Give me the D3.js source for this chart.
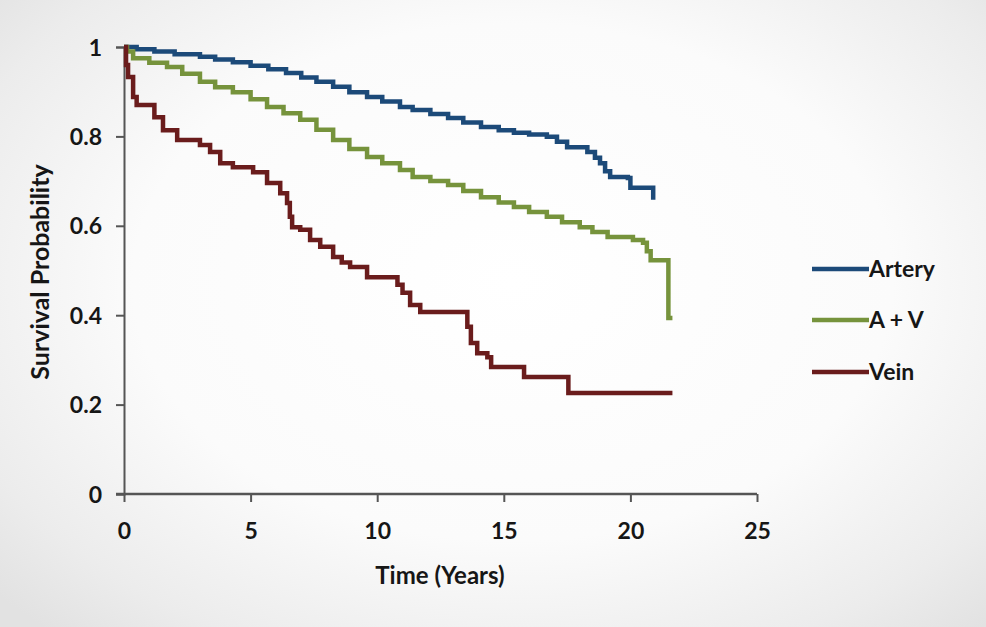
<!DOCTYPE html>
<html>
<head>
<meta charset="utf-8">
<script src="https://cdn.jsdelivr.net/npm/d3@7/dist/d3.min.js"></script>
<style>
html,body{margin:0;padding:0;}
body{width:986px;height:627px;overflow:hidden;
background:radial-gradient(ellipse 70% 75% at 52% 45%, #ffffff 0%, #fbfbfb 55%, #ececec 85%, #e2e2e2 100%);}
svg{display:block;}
text{font-family:Lato,"Open Sans",sans-serif;fill:#161616;font-weight:700;}
</style>
</head>
<body>
<svg id="chart" width="986" height="627"></svg>
<script>
// ---- data ----
const seriesNames = ["Artery", "A + V", "Vein"];
const seriesColors = ["#1c4a79", "#76933c", "#6a1c1c"];
const xTicks = [0, 5, 10, 15, 20, 25];
const yTicks = [0, 0.2, 0.4, 0.6, 0.8, 1];
const yTickLabels = ["0", "0.2", "0.4", "0.6", "0.8", "1"];

const arteryT = [0, 0.5, 1.2, 2.0, 3.0, 3.6, 4.3, 5.0, 5.7, 6.4, 7.0, 7.6, 8.26, 8.9, 9.6, 10.2, 10.9, 11.4, 12.1, 12.8, 13.4, 14.1, 14.8, 15.4, 16.0, 16.7, 17.1, 17.5, 18.3, 18.6, 18.8, 19.0, 19.2, 19.9, 20.0, 20.9, 20.9];
const arteryV = [1.0, 0.995, 0.99, 0.984, 0.978, 0.972, 0.966, 0.958, 0.95, 0.942, 0.932, 0.922, 0.911, 0.899, 0.888, 0.878, 0.866, 0.859, 0.85, 0.841, 0.831, 0.821, 0.814, 0.808, 0.804, 0.799, 0.788, 0.776, 0.765, 0.752, 0.74, 0.722, 0.709, 0.707, 0.685, 0.685, 0.658];

const avT = [0, 0.12, 0.36, 1.0, 1.7, 2.3, 3.0, 3.6, 4.3, 5.0, 5.65, 6.3, 6.96, 7.6, 8.26, 8.9, 9.6, 10.2, 10.9, 11.4, 12.1, 12.8, 13.4, 14.1, 14.8, 15.4, 16.0, 16.7, 17.3, 18.0, 18.5, 19.1, 20.1, 20.5, 20.65, 20.8, 21.5, 21.66];
const avV = [1.0, 0.99, 0.975, 0.965, 0.955, 0.94, 0.922, 0.91, 0.899, 0.883, 0.866, 0.852, 0.837, 0.815, 0.792, 0.772, 0.754, 0.74, 0.725, 0.709, 0.70, 0.691, 0.678, 0.664, 0.652, 0.642, 0.631, 0.620, 0.608, 0.597, 0.586, 0.575, 0.568, 0.562, 0.543, 0.523, 0.394, 0.394];

const veinT = [0, 0.08, 0.16, 0.36, 0.5, 1.03, 1.2, 1.54, 2.1, 3.0, 3.4, 3.8, 4.3, 5.1, 5.65, 6.17, 6.44, 6.55, 6.64, 6.96, 7.35, 7.75, 8.26, 8.6, 8.93, 9.6, 10.6, 10.8, 11.0, 11.3, 11.7, 13.4, 13.56, 13.7, 13.95, 14.35, 14.5, 15.65, 15.8, 17.55, 21.66];
const veinV = [1.0, 0.96, 0.933, 0.888, 0.87, 0.87, 0.843, 0.814, 0.792, 0.781, 0.765, 0.74, 0.731, 0.72, 0.696, 0.673, 0.651, 0.62, 0.597, 0.591, 0.568, 0.553, 0.53, 0.518, 0.508, 0.485, 0.485, 0.468, 0.45, 0.423, 0.407, 0.407, 0.374, 0.338, 0.315, 0.306, 0.284, 0.284, 0.262, 0.226, 0.226];

const seriesT = [arteryT, avT, veinT];
const seriesV = [arteryV, avV, veinV];

// ---- layout ----
const svg = d3.select("#chart");
const x = d3.scaleLinear().domain([0, 25]).range([124, 757]);
const y = d3.scaleLinear().domain([0, 1]).range([494, 47]);
const axisColor = "#555";

// y axis
const yAxis = d3.axisLeft(y).tickValues(yTicks).tickFormat((d, i) => yTickLabels[i]).tickSize(8).tickPadding(14);
const gy = svg.append("g").attr("transform", "translate(124,0)").call(yAxis);
gy.select(".domain").attr("stroke", axisColor).attr("stroke-width", 2);
gy.selectAll(".tick line").attr("stroke", axisColor).attr("stroke-width", 2);
gy.selectAll(".tick text").style("font-size", "23px").style("font-family", "Lato, sans-serif").style("font-weight", "700").attr("fill", "#161616").attr("dy", "0.35em");

// x axis
const xAxis = d3.axisBottom(x).tickValues(xTicks).tickSize(8).tickPadding(29).tickSizeOuter(0);
const gx = svg.append("g").attr("transform", "translate(0,494)").call(xAxis);
gx.select(".domain").attr("stroke", axisColor).attr("stroke-width", 2.5).attr("d", "M116,0H757");
gx.selectAll(".tick line").attr("stroke", axisColor).attr("stroke-width", 2);
gx.selectAll(".tick text").style("font-size", "23px").style("font-family", "Lato, sans-serif").style("font-weight", "700").attr("fill", "#161616").attr("dy", "0.35em");

// axis titles
svg.append("text").attr("x", 440).attr("y", 584).attr("text-anchor", "middle")
  .style("font-size", "24px").text("Time (Years)");
svg.append("text").attr("transform", "translate(49,272) rotate(-90)").attr("text-anchor", "middle")
  .style("font-size", "25px").text("Survival Probability");

// lines
const line = d3.line().x(d => x(d[0])).y(d => y(d[1])).curve(d3.curveStepAfter);
seriesNames.forEach((name, i) => {
  const pts = seriesT[i].map((t, j) => [t, seriesV[i][j]]);
  svg.append("path").datum(pts).attr("d", line)
    .attr("fill", "none").attr("stroke", seriesColors[i]).attr("stroke-width", 4.5)
    .attr("stroke-linejoin", "miter");
});

// legend
const legY = [269, 320, 372];
seriesNames.forEach((name, i) => {
  svg.append("line").attr("x1", 812).attr("x2", 869).attr("y1", legY[i]).attr("y2", legY[i])
    .attr("stroke", seriesColors[i]).attr("stroke-width", 4.5);
  svg.append("text").attr("x", 869).attr("y", legY[i]).attr("dy", "0.35em")
    .style("font-size", "23px").text(name);
});
</script>
</body>
</html>
